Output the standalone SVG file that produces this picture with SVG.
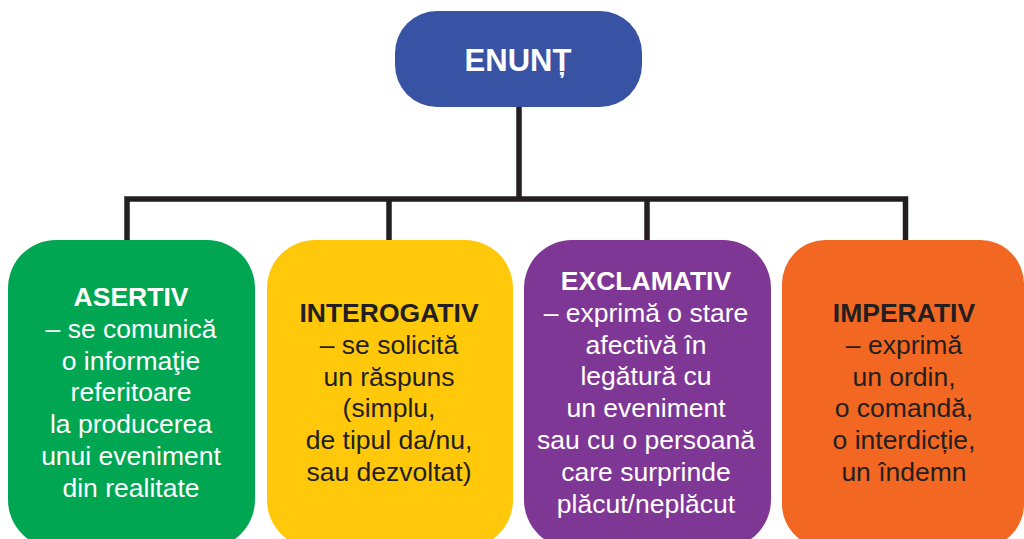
<svg xmlns="http://www.w3.org/2000/svg" width="1024" height="539" viewBox="0 0 1024 539">
<style>
text{font-family:"Liberation Sans",Arial,sans-serif;font-size:26.5px;text-anchor:middle}
.t{font-weight:bold}
.w{fill:#ffffff}
.d{fill:#231F20}
.ln{stroke:#231F20;stroke-width:5.5;fill:none;stroke-linecap:butt;stroke-linejoin:miter}
</style>
<rect width="1024" height="539" fill="#ffffff"/>
<g id="connectors">
<path class="ln" d="M519 107V199"/>
<path class="ln" d="M127 242V199H905.5V242"/>
<path class="ln" d="M389 242V199"/>
<path class="ln" d="M647 242V199"/>
</g>
<g id="enunt">
<rect x="395" y="11" width="247" height="96" rx="42" fill="#3953A4"/>
<text x="518" y="71" class="t w" style="font-size:31px">ENUNȚ</text>
</g>
<g id="asertiv">
<rect x="8" y="240" width="247" height="308" rx="48" fill="#00A651"/>
<text x="131" y="306" class="w"><tspan class="t">ASERTIV</tspan><tspan x="131" dy="31.8">– se comunică</tspan><tspan x="131" dy="31.8">o informaţie</tspan><tspan x="131" dy="31.8">referitoare</tspan><tspan x="131" dy="31.8">la producerea</tspan><tspan x="131" dy="31.8">unui eveniment</tspan><tspan x="131" dy="31.8">din realitate</tspan></text>
</g>
<g id="interogativ">
<rect x="267" y="240" width="246" height="308" rx="48" fill="#FFC80B"/>
<text x="389" y="322" class="d"><tspan class="t">INTEROGATIV</tspan><tspan x="389" dy="31.8">– se solicită</tspan><tspan x="389" dy="31.8">un răspuns</tspan><tspan x="389" dy="31.8">(simplu,</tspan><tspan x="389" dy="31.8">de tipul da/nu,</tspan><tspan x="389" dy="31.8">sau dezvoltat)</tspan></text>
</g>
<g id="exclamativ">
<rect x="524" y="240" width="247" height="308" rx="48" fill="#7F3795"/>
<text x="646" y="290" class="w"><tspan class="t">EXCLAMATIV</tspan><tspan x="646" dy="31.8">– exprimă o stare</tspan><tspan x="646" dy="31.8">afectivă în</tspan><tspan x="646" dy="31.8">legătură cu</tspan><tspan x="646" dy="31.8">un eveniment</tspan><tspan x="646" dy="31.8">sau cu o persoană</tspan><tspan x="646" dy="31.8">care surprinde</tspan><tspan x="646" dy="31.8">plăcut/neplăcut</tspan></text>
</g>
<g id="imperativ">
<rect x="782" y="240" width="242" height="308" rx="44" fill="#F26722"/>
<text x="904" y="322" class="d"><tspan class="t">IMPERATIV</tspan><tspan x="904" dy="31.8">– exprimă</tspan><tspan x="904" dy="31.8">un ordin,</tspan><tspan x="904" dy="31.8">o comandă,</tspan><tspan x="904" dy="31.8">o interdicție,</tspan><tspan x="904" dy="31.8">un îndemn</tspan></text>
</g>
</svg>
